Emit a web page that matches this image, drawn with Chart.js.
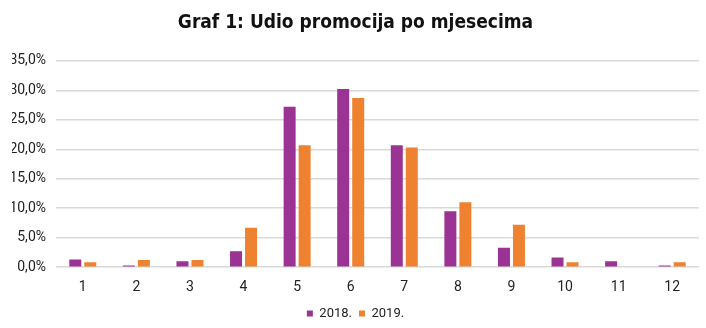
<!DOCTYPE html>
<html>
<head>
<meta charset="utf-8">
<script src="https://cdn.jsdelivr.net/npm/chart.js@4"></script>
<style>
  html, body { margin: 0; padding: 0; background: #fff; }
  #wrap { width: 706px; height: 328px; }
</style>
</head>
<body>
<div id="wrap"><canvas id="chart" width="706" height="328"></canvas></div>
<script>
const months = ['1', '2', '3', '4', '5', '6', '7', '8', '9', '10', '11', '12'];
const share2018 = [1.3, 0.3, 1.0, 2.7, 27.2, 30.2, 20.7, 9.5, 3.3, 1.65, 1.0, 0.3];
const share2019 = [0.85, 1.2, 1.2, 6.7, 20.7, 28.7, 20.3, 11.0, 7.2, 0.85, 0, 0.85];
const yTicks = [0, 5, 10, 15, 20, 25, 30, 35];

const PURPLE = '#9a3394';
const ORANGE = '#ee8230';
const labelFont = { family: 'Roboto, "Liberation Sans", sans-serif', size: 14 };

const pct = v => v.toFixed(1).replace('.', ',') + '%';

new Chart(document.getElementById('chart'), {
  type: 'bar',
  data: {
    labels: months,
    datasets: [
      { label: '2018.', data: share2018, backgroundColor: PURPLE },
      { label: '2019.', data: share2019, backgroundColor: ORANGE }
    ]
  },
  options: {
    responsive: false,
    animation: false,
    layout: { padding: { left: 12, right: 7, top: 0, bottom: -2 } },
    datasets: { bar: { categoryPercentage: 0.56, barPercentage: 0.8 } },
    plugins: {
      title: {
        display: true,
        text: 'Graf 1: Udio promocija po mjesecima',
        color: '#111',
        font: { family: '"DejaVu Sans Condensed", "DejaVu Sans", sans-serif', size: 19, weight: 'bold' },
        padding: { top: 12, bottom: 26 }
      },
      legend: {
        position: 'bottom',
        labels: {
          color: '#222',
          font: { family: labelFont.family, size: 13 },
          boxWidth: 6,
          boxHeight: 6,
          padding: 7
        }
      },
      tooltip: { enabled: false }
    },
    scales: {
      x: {
        grid: { display: false },
        border: { display: false },
        ticks: { color: '#222', font: labelFont, padding: 4 }
      },
      y: {
        min: 0,
        max: 35,
        afterBuildTicks: axis => { axis.ticks = yTicks.map(v => ({ value: v })); },
        afterFit: axis => { axis.width = 44; },
        grid: { color: '#d9d9d9', lineWidth: 1.5, drawTicks: false },
        border: { display: false },
        ticks: { color: '#222', font: labelFont, padding: 10, callback: v => pct(v) }
      }
    }
  }
});
</script>
</body>
</html>
